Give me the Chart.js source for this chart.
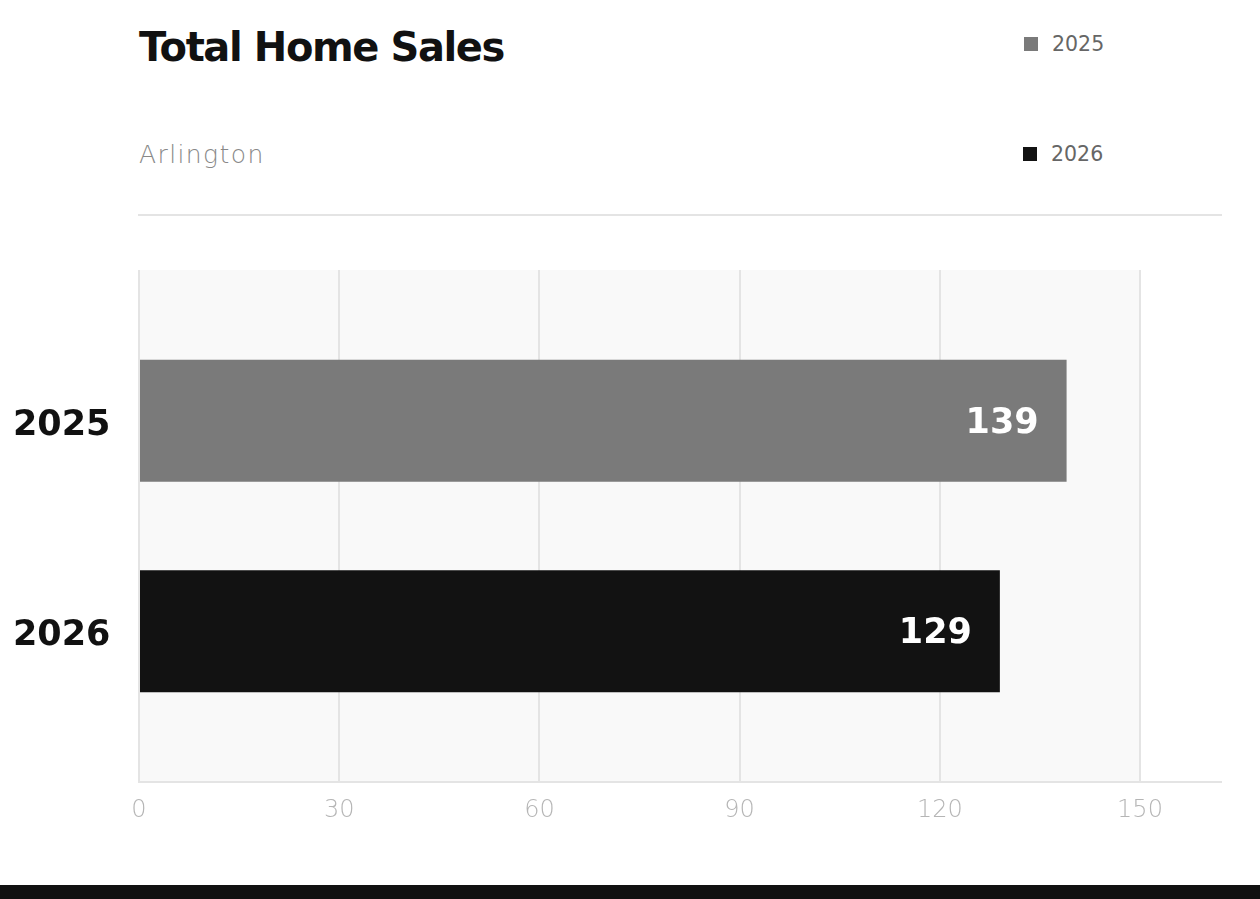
<!DOCTYPE html>
<html>
<head>
<meta charset="utf-8">
<title>Total Home Sales</title>
<script src="https://cdn.jsdelivr.net/npm/chart.js@4"></script>
<style>
    html, body { margin: 0; padding: 0; background: #fff; }
    body { width: 1260px; height: 899px; position: relative; overflow: hidden; font-family: "DejaVu Sans", sans-serif; }
    .title { position: absolute; left: 139px; top: 27px; font-size: 40px; line-height: 40px; font-weight: bold; letter-spacing: -1.4px; color: #111; white-space: nowrap; }
    .subtitle { position: absolute; left: 139px; top: 142px; font-size: 25px; line-height: 25px; font-weight: 200; letter-spacing: 1.4px; color: #888; white-space: nowrap; }
    .legend-item { position: absolute; font-size: 20.5px; line-height: 20.5px; color: #666; white-space: nowrap; }
    .legend-item span { position: absolute; width: 14px; height: 14px; }
    .rule { position: absolute; left: 138px; top: 214px; width: 1084px; height: 2px; background: #e4e4e4; }
    .chart-box { position: absolute; left: 0; top: 230px; width: 1222px; height: 620px; }
    .footer { position: absolute; left: 0; top: 885px; width: 1260px; height: 14px; background: #111; }
</style>
</head>
<body>
<div class="title">Total Home Sales</div>
<div class="subtitle">Arlington</div>
<div id="legend"></div>
<div class="rule"></div>
<div class="chart-box"><canvas id="salesChart"></canvas></div>
<div class="footer"></div>

<script>
// Chart data
const categories = ['2025', '2026'];
const sales = [139, 129];
const barColors = ['#7a7a7a', '#121212'];
const xTicks = [0, 30, 60, 90, 120, 150];

// Legend (one row per year)
const legendSpots = [
    { box: [1024, 37], text: [1052, 34] },
    { box: [1023, 147], text: [1051, 144] }
];
const legendEl = document.getElementById('legend');
categories.forEach((year, i) => {
    const item = document.createElement('div');
    item.className = 'legend-item';
    item.style.left = legendSpots[i].text[0] + 'px';
    item.style.top = legendSpots[i].text[1] + 'px';
    item.textContent = year;
    const sw = document.createElement('span');
    sw.style.background = barColors[i];
    sw.style.left = (legendSpots[i].box[0] - legendSpots[i].text[0]) + 'px';
    sw.style.top = (legendSpots[i].box[1] - legendSpots[i].text[1]) + 'px';
    item.appendChild(sw);
    legendEl.appendChild(item);
});

// Light panel behind the plot and axis line running to the container edge
const panelPlugin = {
    id: 'panel',
    beforeDraw(chart) {
        const { ctx, chartArea } = chart;
        ctx.save();
        ctx.fillStyle = '#f9f9f9';
        ctx.fillRect(chartArea.left, chartArea.top, chartArea.right - chartArea.left, chartArea.bottom - chartArea.top);
        ctx.restore();
    },
    afterDraw(chart) {
        const { ctx, chartArea } = chart;
        ctx.save();
        ctx.strokeStyle = '#e4e4e4';
        ctx.lineWidth = 2;
        ctx.beginPath();
        ctx.moveTo(chartArea.left - 1, chartArea.bottom);
        ctx.lineTo(chart.width, chartArea.bottom);
        ctx.stroke();
        ctx.restore();
    }
};

// Value labels inside the bar ends
const valueLabels = {
    id: 'valueLabels',
    afterDatasetsDraw(chart) {
        const { ctx } = chart;
        ctx.save();
        ctx.font = 'bold 35px "DejaVu Sans"';
        ctx.fillStyle = '#ffffff';
        ctx.textAlign = 'right';
        ctx.textBaseline = 'middle';
        chart.getDatasetMeta(0).data.forEach((bar, i) => {
            ctx.fillText(String(sales[i]), bar.x - 28, bar.y + 3);
        });
        ctx.restore();
    }
};

const ctx = document.getElementById('salesChart').getContext('2d');
const salesChart = new Chart(ctx, {
    type: 'bar',
    data: {
        datasets: [{
            label: 'Total Home Sales',
            data: sales.map((v, i) => ({ x: v, y: i })),
            backgroundColor: barColors,
            borderWidth: 0,
            barPercentage: 1,
            categoryPercentage: 0.58
        }]
    },
    options: {
        indexAxis: 'y',
        responsive: true,
        maintainAspectRatio: false,
        animation: false,
        layout: {
            padding: { top: 40, right: 82, left: 13, bottom: 0 }
        },
        scales: {
            x: {
                type: 'linear',
                min: 0,
                max: 150,
                afterFit(scale) { scale.height = 68; },
                afterBuildTicks(scale) { scale.ticks = xTicks.map(v => ({ value: v })); },
                grid: {
                    color: '#e4e4e4',
                    lineWidth: 2,
                    drawTicks: false
                },
                border: { display: false },
                ticks: {
                    padding: 14,
                    color: '#b5b5b5',
                    font: { family: 'DejaVu Sans', size: 24, weight: '200' }
                }
            },
            y: {
                type: 'linear',
                reverse: true,
                offset: false,
                min: -0.7167,
                max: 1.7167,
                afterFit(scale) { scale.width = 126; },
                afterBuildTicks(scale) { scale.ticks = categories.map((c, i) => ({ value: i })); },
                grid: { display: false, drawTicks: false },
                border: { display: false },
                ticks: {
                    padding: 0,
                    crossAlign: 'far',
                    labelOffset: 5,
                    color: '#111',
                    font: { family: 'DejaVu Sans', size: 35, weight: 'bold' },
                    callback: (value) => categories[value]
                }
            }
        },
        plugins: {
            legend: { display: false },
            tooltip: { enabled: false }
        }
    },
    plugins: [panelPlugin, valueLabels]
});
</script>
</body>
</html>
